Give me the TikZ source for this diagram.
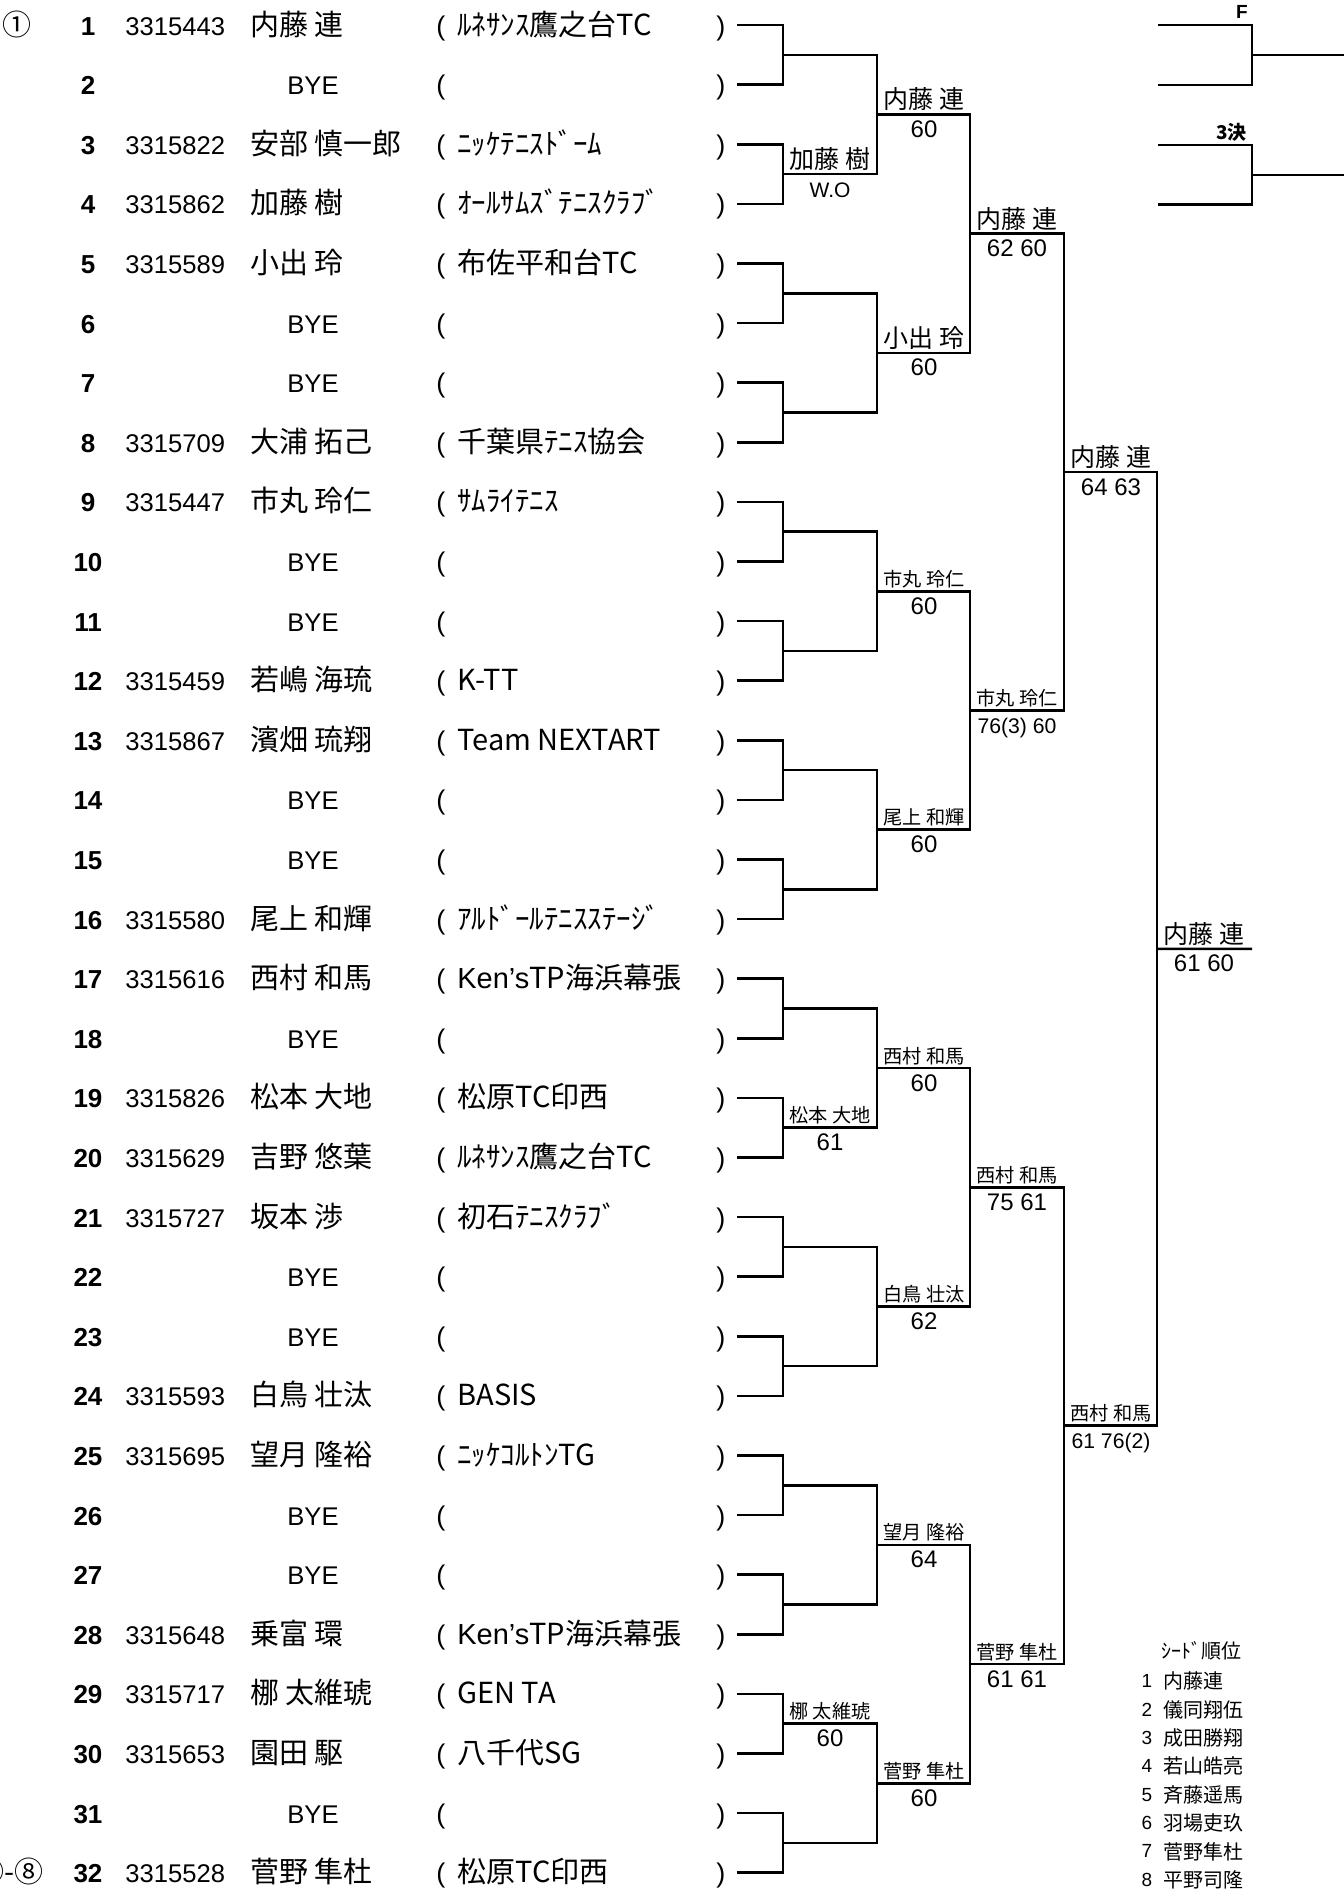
\documentclass[tikz,border=0pt]{standalone}
\usepackage{fontspec}
\setmainfont{Liberation Sans}
\newfontfamily\jp{Noto Sans CJK JP}
\usetikzlibrary{calc}

\tikzset{ line/.style ={line width=1.3pt} }
\tikzset{ seed/.style ={font=\jp\fontsize{14.5}{14.5}\selectfont,       anchor=base,      inner sep=0pt} }
\tikzset{ num/.style  ={font=\bfseries\fontsize{13}{13}\selectfont,     anchor=base,      inner sep=0pt} }
\tikzset{ pid/.style  ={font=\fontsize{12.8}{12.8}\selectfont,          anchor=base west, inner sep=0pt} }
\tikzset{ pname/.style={font=\jp\fontsize{14.5}{14.5}\selectfont,       anchor=base west, inner sep=0pt} }
\tikzset{ bye/.style  ={font=\fontsize{12.8}{12.8}\selectfont,          anchor=base,      inner sep=0pt} }
\tikzset{ club/.style ={font=\jp\fontsize{14.5}{14.5}\selectfont,       anchor=base west, inner sep=0pt} }
\tikzset{ par/.style  ={font=\fontsize{13.5}{13.5}\selectfont,          anchor=base west, inner sep=0pt} }
\tikzset{ win/.style  ={anchor=south, inner sep=0pt} }
\tikzset{ score/.style={anchor=base,  inner sep=0pt} }
\tikzset{ blbl/.style ={font=\bfseries\fontsize{9.5}{9.5}\selectfont,   anchor=base east, inner sep=0pt} }
\tikzset{ slist/.style={font=\jp\fontsize{10}{10}\selectfont,           anchor=west,      inner sep=0pt} }
\tikzset{ snum/.style ={font=\fontsize{9.5}{9.5}\selectfont,            anchor=center,    inner sep=0pt} }

\begin{document}
\begin{tikzpicture}[x=0.5pt, y=-0.5pt]
    \useasboundingbox (0,0) rectangle (1344,1897);

    % match points, round 1 .. 5
    \foreach \r/\x in {1/783, 2/877, 3/970, 4/1064, 5/1157} {
      \pgfmathtruncatemacro\cnt{32/2^\r}
      \foreach \m in {1,...,\cnt} {
        \pgfmathsetmacro\yy{25+((\m-1)*2^\r+(2^\r-1)/2)*59.6}
        \coordinate (m\r_\m) at (\x,\yy);
      }
    }
    \coordinate (fin) at (1252,948.8);

    % draw rows
    \foreach \n in {1,...,32} {
      \pgfmathsetmacro\yy{25+(\n-1)*59.6}
      \pgfmathtruncatemacro\k{(\n+1)/2}
      \coordinate (s\n) at (737,\yy);
      \node[num] (no\n) at ( 88,\yy+10) {\n};
      \node[par] (lp\n) at (436,\yy+10) {(};
      \node[par] (rp\n) at (716,\yy+10) {)};
      \draw[line] (s\n) -| (m1_\k);
    }

    \foreach \n/\id/\who/\club in {
       1/3315443/内藤 連/ﾙﾈｻﾝｽ鷹之台TC,
       3/3315822/安部 慎一郎/ﾆｯｹﾃﾆｽﾄﾞｰﾑ,
       4/3315862/加藤 樹/ｵｰﾙｻﾑｽﾞﾃﾆｽｸﾗﾌﾞ,
       5/3315589/小出 玲/布佐平和台TC,
       8/3315709/大浦 拓己/千葉県ﾃﾆｽ協会,
       9/3315447/市丸 玲仁/ｻﾑﾗｲﾃﾆｽ,
      12/3315459/若嶋 海琉/K-TT,
      13/3315867/濱畑 琉翔/Team NEXTART,
      16/3315580/尾上 和輝/ｱﾙﾄﾞｰﾙﾃﾆｽｽﾃｰｼﾞ,
      17/3315616/西村 和馬/{\normalfont Ken's}TP海浜幕張,
      19/3315826/松本 大地/松原TC印西,
      20/3315629/吉野 悠葉/ﾙﾈｻﾝｽ鷹之台TC,
      21/3315727/坂本 渉/初石ﾃﾆｽｸﾗﾌﾞ,
      24/3315593/白鳥 壮汰/BASIS,
      25/3315695/望月 隆裕/ﾆｯｹｺﾙﾄﾝTG,
      28/3315648/乗富 環/{\normalfont Ken's}TP海浜幕張,
      29/3315717/梛 太維琥/GEN TA,
      30/3315653/園田 駆/八千代SG,
      32/3315528/菅野 隼杜/松原TC印西} {
      \pgfmathsetmacro\yy{25+(\n-1)*59.6}
      \node[pid]   (id\n) at (125,\yy+10) {\id};
      \node[pname] (pl\n) at (250,\yy+10) {\who};
      \node[club]  (cl\n) at (457,\yy+10) {\club};
    }

    \foreach \n in {2,6,7,10,11,14,15,18,22,23,26,27,31} {
      \pgfmathsetmacro\yy{25+(\n-1)*59.6}
      \node[bye] (pl\n) at (313,\yy+10) {BYE};
    }

    \node[seed]             (sd1)  at (17,35)     {①};
    \node[seed,anchor=base east] (sd32) at (44,1882.6) {⑤-⑧};

    % later rounds
    \foreach \r in {1,...,4} {
      \pgfmathtruncatemacro\cnt{32/2^\r}
      \pgfmathtruncatemacro\nr{\r+1}
      \foreach \m in {1,...,\cnt} {
        \pgfmathtruncatemacro\k{(\m+1)/2}
        \draw[line] (m\r_\m) -| (m\nr_\k);
      }
    }
    \draw[line] (m5_1) -- (fin);

    % winners and scores
    \foreach \r/\m/\who/\fs/\sc/\ss in {
      1/2/加藤 樹/12.5/W.O/10.5,
      1/10/松本 大地/9.6/61/12,
      1/15/梛 太維琥/9.6/60/12,
      2/1/内藤 連/12.5/60/12,
      2/2/小出 玲/12.5/60/12,
      2/3/市丸 玲仁/9.6/60/12,
      2/4/尾上 和輝/9.6/60/12,
      2/5/西村 和馬/9.6/60/12,
      2/6/白鳥 壮汰/9.6/62/12,
      2/7/望月 隆裕/9.6/64/12,
      2/8/菅野 隼杜/9.6/60/12,
      3/1/内藤 連/12.5/62 60/12,
      3/2/市丸 玲仁/9.6/76(3) 60/10.6,
      3/3/西村 和馬/9.6/75 61/12,
      3/4/菅野 隼杜/9.6/61 61/12,
      4/1/内藤 連/12.5/64 63/12,
      4/2/西村 和馬/9.6/61 76(2)/10.6,
      5/1/内藤 連/12.5/61 60/12} {
      \node[win, font=\jp\fontsize{\fs}{\fs}\selectfont] (w\r_\m)  at ($(m\r_\m)+(47,-3)$) {\who};
      \node[score, font=\fontsize{\ss}{\ss}\selectfont]  (sc\r_\m) at ($(m\r_\m)+(47,23)$) {\sc};
    }

    % F and 3rd place
    \coordinate (fa) at (1158,25);
    \coordinate (fb) at (1158,85);
    \coordinate (fm) at (1252,55);
    \coordinate (fq) at (1344,55);
    \draw[line] (fa) -| (fm);
    \draw[line] (fb) -| (fm);
    \draw[line] (fm) -- (fq);
    \node[blbl] (lf) at (1248,18) {F};

    \coordinate (ta) at (1158,145);
    \coordinate (tb) at (1158,204.6);
    \coordinate (tm) at (1252,174.8);
    \coordinate (tq) at (1344,174.8);
    \draw[line] (ta) -| (tm);
    \draw[line] (tb) -| (tm);
    \draw[line] (tm) -- (tq);
    \node[blbl, font=\jp\bfseries\fontsize{9.5}{9.5}\selectfont] (l3) at (1247,139) {3決};

    % seed list
    \node[slist] (shd) at (1161,1651) {ｼｰﾄﾞ順位};
    \foreach \k/\who in {1/内藤連, 2/儀同翔伍, 3/成田勝翔, 4/若山皓亮, 5/斉藤遥馬, 6/羽場吏玖, 7/菅野隼杜, 8/平野司隆} {
      \pgfmathsetmacro\yy{1681+(\k-1)*28.4}
      \node[snum]  (sn\k) at (1147,\yy) {\k};
      \node[slist] (sw\k) at (1163,\yy) {\who};
    }
\end{tikzpicture}
\end{document}
